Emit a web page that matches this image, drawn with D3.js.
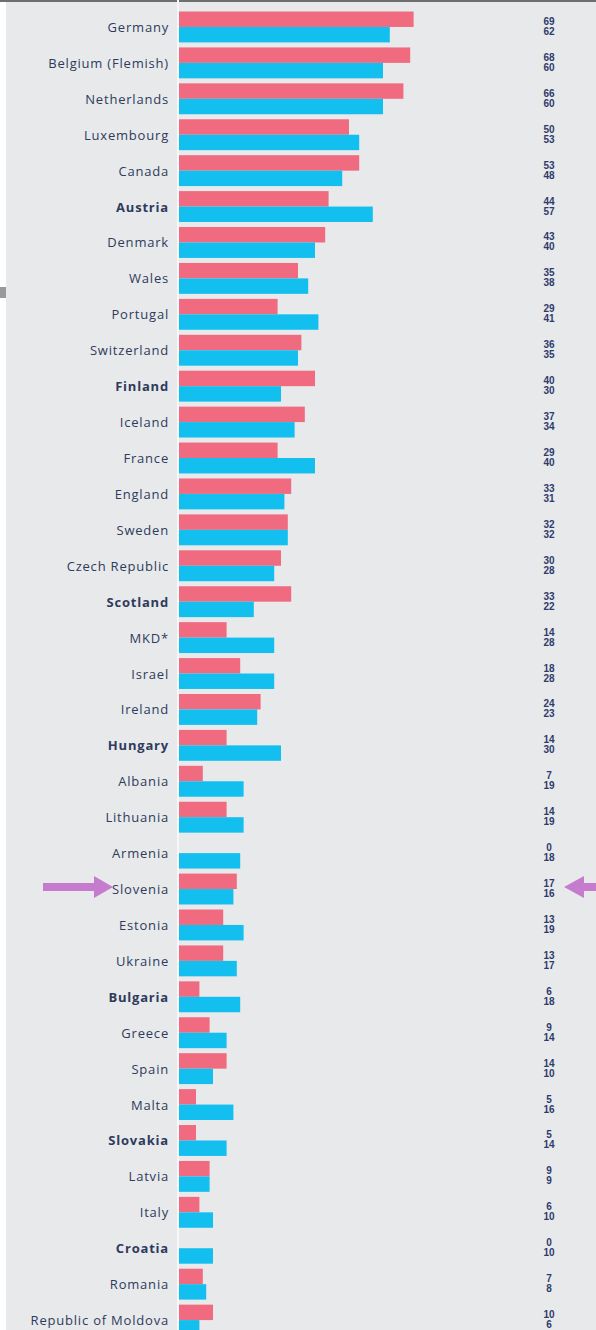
<!DOCTYPE html>
<html><head><meta charset="utf-8">
<script src="https://cdn.jsdelivr.net/npm/d3@7"></script>
<style>html,body{margin:0;padding:0;background:#fff;}svg{display:block;}</style>
</head><body>
<script>
const countries = ["Germany","Belgium (Flemish)","Netherlands","Luxembourg","Canada","Austria","Denmark","Wales","Portugal","Switzerland","Finland","Iceland","France","England","Sweden","Czech Republic","Scotland","MKD*","Israel","Ireland","Hungary","Albania","Lithuania","Armenia","Slovenia","Estonia","Ukraine","Bulgaria","Greece","Spain","Malta","Slovakia","Latvia","Italy","Croatia","Romania","Republic of Moldova"];
const boldCountries = ["Austria","Finland","Scotland","Hungary","Bulgaria","Slovakia","Croatia"];
const girls = [69,68,66,50,53,44,43,35,29,36,40,37,29,33,32,30,33,14,18,24,14,7,14,0,17,13,13,6,9,14,5,5,9,6,0,7,10];
const boys  = [62,60,60,53,48,57,40,38,41,35,30,34,40,31,32,28,22,28,28,23,30,19,19,18,16,19,17,18,14,10,16,14,9,10,10,8,6];
const highlighted = "Slovenia";

const W = 596, H = 1330;
const svg = d3.select("body").append("svg").attr("width", W).attr("height", H);

svg.append("rect").attr("x",0).attr("y",0).attr("width",W).attr("height",H).attr("fill","#ffffff");
svg.append("rect").attr("x",6).attr("y",0).attr("width",W-6).attr("height",H).attr("fill","#e8e9eb");
svg.append("rect").attr("x",0).attr("y",0).attr("width",W).attr("height",2).attr("fill","#6d6e70");
svg.append("rect").attr("x",0).attr("y",287).attr("width",6).attr("height",11).attr("fill","#9a9a9a");

const x = d3.scaleLinear().domain([0, 100]).range([179, 179 + 340]);
const y = d3.scaleBand().domain(countries).range([9, 9 + 35.92*countries.length]).paddingInner(0.14).paddingOuter(0.07);
const sub = d3.scaleBand().domain(["girls","boys"]).range([0, y.bandwidth()]);

svg.append("rect").attr("x",177).attr("y",0).attr("width",2).attr("height",H).attr("fill","#f6f7f8");

const rows = svg.append("g").selectAll("g").data(countries).join("g")
  .attr("transform", d => `translate(0,${y(d)})`);

rows.append("rect").attr("x", x(0)).attr("y", sub("girls"))
  .attr("width", (d,i) => x(girls[i]) - x(0)).attr("height", sub.bandwidth())
  .attr("fill", "#f06a80");
rows.append("rect").attr("x", x(0)).attr("y", sub("boys"))
  .attr("width", (d,i) => x(boys[i]) - x(0)).attr("height", sub.bandwidth())
  .attr("fill", "#12bfef");

rows.append("text").attr("x", 169).attr("y", y.bandwidth()/2 + 5)
  .attr("text-anchor","end")
  .attr("font-family","'Open Sans', sans-serif")
  .attr("font-size", 13)
  .attr("letter-spacing", "0.8")
  .attr("font-weight", d => boldCountries.includes(d) ? 700 : 400)
  .attr("fill","#2e3b5c")
  .text(d => d);

const valText = (sel, arr, dy) => sel.append("text").attr("x", 549).attr("y", y.bandwidth()/2 + dy)
  .attr("text-anchor","middle").attr("font-family","'Liberation Sans', Arial, sans-serif")
  .attr("font-size", 10).attr("font-weight", 700).attr("fill","#2e3b6a")
  .text((d,i) => arr[i]);
valText(rows, girls, -2);
valText(rows, boys, 8);

// arrows for highlighted country
const yc = y(highlighted) + y.bandwidth()/2 - 2;
const arrowColor = "#c57ccf";
svg.append("path").attr("fill", arrowColor)
  .attr("d", `M43,${yc-4} L94,${yc-4} L94,${yc-11} L113,${yc} L94,${yc+11} L94,${yc+4} L43,${yc+4} Z`);
svg.append("path").attr("fill", arrowColor)
  .attr("d", `M596,${yc-4} L584,${yc-4} L584,${yc-11} L564,${yc} L584,${yc+11} L584,${yc+4} L596,${yc+4} Z`);
</script>
</body></html>
